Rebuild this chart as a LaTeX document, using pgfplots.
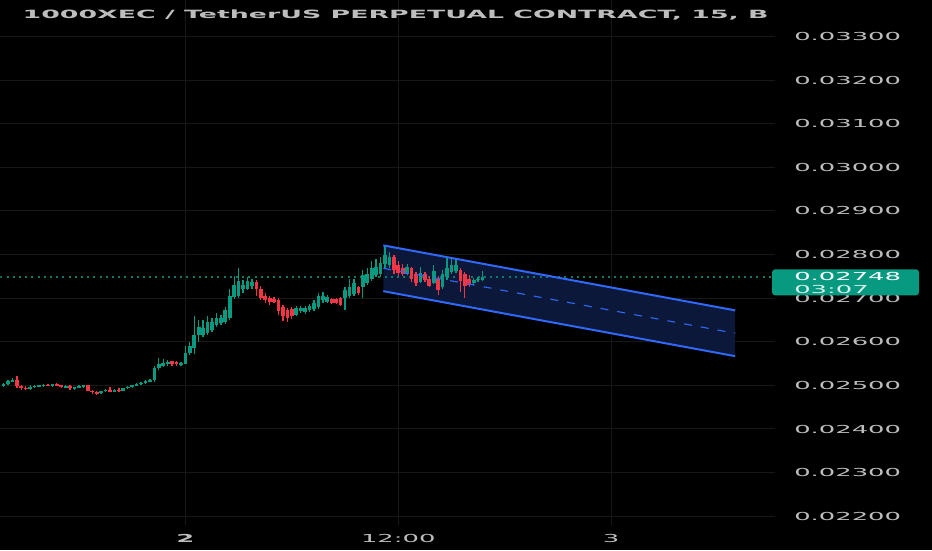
\documentclass[border=0pt]{standalone}
\usepackage{fontspec}
\setmainfont{DejaVu Sans}
\newfontfamily\tvfont[FakeStretch=2.35]{DejaVu Sans}
\usepackage{pgfplots}
\usepackage{pgfplotstable}
\pgfplotsset{compat=1.18}

\definecolor{tvup}{HTML}{089981}
\definecolor{tvdown}{HTML}{F23645}
\definecolor{tvgrid}{HTML}{171717}
\definecolor{tvtext}{HTML}{BDBDBD}
\definecolor{chanline}{HTML}{3068FA}
\definecolor{chanfill}{HTML}{0B1839}
\definecolor{pricedot}{HTML}{0B7A66}

% 15-minute candles, time in hours from day 1 00:00, price x 1e5
\pgfplotstableread{
t     o    h    l    c
13.75 2500 2506 2497 2504
14.00 2504 2512 2502 2510
14.25 2510 2516 2507 2512
15.25 2492 2500 2490 2497
15.50 2497 2501 2494 2499
15.75 2499 2502 2496 2500
16.00 2500 2503 2497 2501
16.50 2500 2504 2497 2502
17.25 2496 2500 2493 2498
17.75 2493 2497 2490 2496
18.00 2496 2500 2494 2498
18.25 2498 2502 2495 2500
19.25 2482 2488 2480 2487
19.50 2487 2492 2485 2490
20.00 2486 2492 2484 2490
20.50 2488 2495 2487 2494
20.75 2494 2498 2492 2497
21.00 2497 2502 2495 2500
21.25 2500 2505 2498 2503
21.50 2503 2508 2501 2506
21.75 2506 2512 2504 2510
22.00 2510 2514 2507 2512
22.25 2512 2545 2508 2540
22.50 2540 2562 2535 2550
22.75 2545 2560 2543 2552
23.00 2548 2558 2545 2553
23.75 2548 2554 2545 2552
24.00 2550 2590 2548 2575
24.25 2575 2600 2570 2590
24.50 2585 2660 2572 2615
24.75 2615 2650 2600 2635
25.00 2615 2650 2610 2632
25.25 2620 2658 2615 2645
25.50 2628 2655 2622 2645
25.75 2638 2666 2633 2654
26.00 2642 2662 2638 2655
26.25 2645 2680 2640 2672
26.50 2655 2720 2650 2705
26.75 2702 2750 2698 2730
27.00 2705 2770 2700 2740
27.25 2720 2742 2712 2730
27.50 2722 2748 2718 2740
27.75 2728 2745 2722 2738
30.25 2662 2682 2658 2678
30.50 2670 2683 2666 2678
30.75 2668 2682 2664 2678
31.00 2672 2686 2668 2682
31.25 2675 2695 2670 2690
31.50 2680 2712 2675 2705
31.75 2695 2714 2690 2705
32.00 2692 2708 2690 2702
33.00 2700 2725 2672 2718
33.25 2705 2745 2700 2725
33.50 2710 2745 2705 2735
34.00 2725 2765 2700 2752
34.25 2735 2770 2730 2755
34.50 2745 2785 2740 2770
34.75 2752 2790 2748 2772
35.00 2755 2795 2748 2780
35.25 2778 2822 2770 2800
35.50 2775 2805 2768 2795
36.50 2755 2778 2752 2772
37.25 2738 2772 2735 2758
38.00 2735 2775 2732 2762
38.50 2725 2765 2720 2755
38.75 2748 2792 2742 2770
39.00 2760 2790 2755 2775
39.25 2762 2792 2758 2775
40.25 2735 2746 2730 2742
40.50 2742 2748 2738 2745
40.75 2742 2762 2740 2748
}\upcandles

\pgfplotstableread{
t     o    h    l    c
14.50 2512 2522 2494 2498
14.75 2498 2502 2490 2493
15.00 2495 2498 2489 2492
16.25 2501 2504 2498 2500
16.75 2502 2505 2499 2500
17.00 2500 2502 2494 2496
17.50 2498 2500 2490 2493
18.50 2500 2500 2486 2488
18.75 2488 2490 2480 2484
19.00 2484 2488 2478 2482
19.75 2490 2496 2484 2486
20.25 2490 2493 2485 2488
23.25 2555 2557 2545 2548
23.50 2553 2556 2545 2548
28.00 2738 2742 2706 2722
28.25 2722 2728 2695 2700
28.50 2705 2712 2688 2695
28.75 2700 2705 2685 2692
29.00 2698 2703 2688 2692
29.25 2695 2700 2662 2670
29.50 2680 2685 2648 2660
29.75 2672 2678 2645 2655
30.00 2675 2680 2652 2660
32.25 2698 2700 2686 2690
32.50 2697 2700 2686 2690
32.75 2700 2703 2682 2685
33.75 2725 2728 2708 2712
35.75 2795 2800 2755 2765
36.00 2775 2785 2750 2758
36.25 2770 2778 2750 2755
36.75 2768 2772 2738 2745
37.00 2755 2760 2728 2735
37.50 2755 2760 2738 2742
37.75 2745 2750 2725 2728
38.25 2745 2750 2708 2718
39.50 2765 2770 2715 2740
39.75 2755 2760 2700 2728
40.00 2745 2752 2725 2730
}\downcandles

\pgfplotsset{
  wick/.style={draw=none, forget plot,
    error bars/.cd, y dir=both, y explicit, error mark=none,
    error bar style={draw=#1, line width=1.3pt}},
  body/.style={draw=none, forget plot,
    error bars/.cd, y dir=both, y explicit, error mark=none,
    error bar style={draw=#1, line width=3.7pt}},
}

\begin{document}
\begin{tikzpicture}
\fill[black] (0,0) rectangle (932pt,550pt);
\begin{axis}[
  at={(0pt,25pt)}, anchor=south west,
  scale only axis, width=775pt, height=525pt,
  xmin=13.577, xmax=57.24, ymin=2179.4, ymax=3382.5,
  axis line style={draw=none}, major tick length=0pt,
  grid=major, major grid style={draw=tvgrid, line width=1pt},
  xtick={24,36,48}, xticklabels={\textbf{2},12:00,3},
  ytick={2200,2300,...,3300},
  yticklabels={0.02200,0.02300,0.02400,0.02500,0.02600,0.02700,
    0.02800,0.02900,0.03000,0.03100,0.03200,0.03300},
  yticklabel pos=right,
  ticklabel style={text=tvtext, font=\tvfont\fontsize{11}{11}\selectfont, inner sep=0pt},
  yticklabel style={anchor=west, xshift=19pt},
  xticklabel style={anchor=center, yshift=-13pt},
]
% regression channel
\addplot[fill=chanfill, draw=none] coordinates {(35.155,2821) (54.99,2672) (54.99,2567) (35.155,2716)} -- cycle;
% last price line
\addplot[pricedot, line width=1.6pt, dash pattern=on 2pt off 4.2pt] coordinates {(13.577,2748) (57.24,2748)};
% candles
\addplot[wick=tvup] table[x=t, y expr={(\thisrow{h}+\thisrow{l})/2}, y error expr={(\thisrow{h}-\thisrow{l})/2}] {\upcandles};
\addplot[body=tvup] table[x=t, y expr={(\thisrow{o}+\thisrow{c})/2}, y error expr={max(abs(\thisrow{c}-\thisrow{o})/2,1.5)}] {\upcandles};
\addplot[wick=tvdown] table[x=t, y expr={(\thisrow{h}+\thisrow{l})/2}, y error expr={(\thisrow{h}-\thisrow{l})/2}] {\downcandles};
\addplot[body=tvdown] table[x=t, y expr={(\thisrow{o}+\thisrow{c})/2}, y error expr={max(abs(\thisrow{c}-\thisrow{o})/2,1.5)}] {\downcandles};
% channel lines
\addplot[chanline, line width=2pt] coordinates {(35.155,2821) (54.99,2672)};
\addplot[chanline, line width=2pt] coordinates {(35.155,2716) (54.99,2567)};
\addplot[chanline, line width=1.1pt, dash pattern=on 8pt off 9pt] coordinates {(35.155,2768.5) (54.99,2619.5)};
\end{axis}
% legend title
\node[anchor=west, inner sep=0pt, text=tvtext, font=\tvfont\bfseries\fontsize{11.4}{12}\selectfont]
  at (22pt,536pt) {1000XEC / TetherUS PERPETUAL CONTRACT, 15, B};
% last price tag
\fill[tvup, rounded corners=3pt] (772pt,255pt) rectangle (919pt,281pt);
\node[anchor=west, inner sep=0pt, text=white, font=\tvfont\fontsize{11}{11}\selectfont] at (794pt,273.5pt) {0.02748};
\node[anchor=west, inner sep=0pt, text=white!85!tvup, font=\tvfont\fontsize{11}{11}\selectfont] at (794pt,261pt) {03:07};
\end{tikzpicture}
\end{document}
